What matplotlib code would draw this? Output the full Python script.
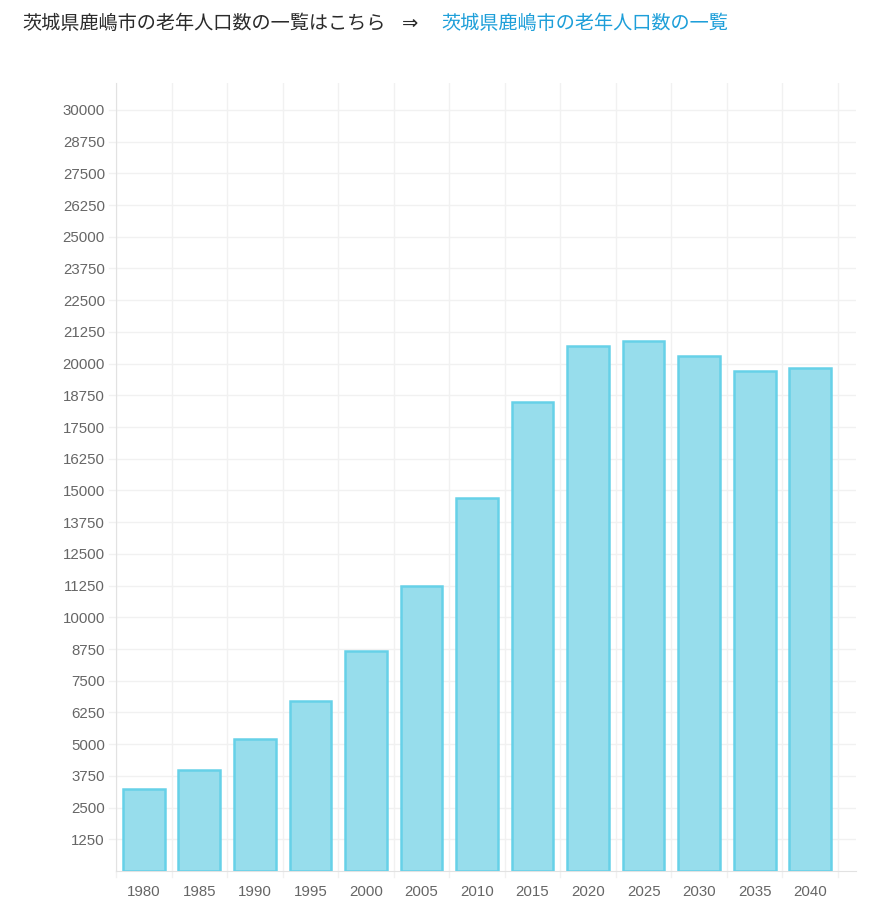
import matplotlib
matplotlib.use("Agg")
import matplotlib.pyplot as plt

years = ["1980", "1985", "1990", "1995", "2000", "2005", "2010",
         "2015", "2020", "2025", "2030", "2035", "2040"]
elderly = [3232, 3981, 5203, 6701, 8672, 11235, 14704,
           18500, 20707, 20893, 20301, 19722, 19816]
yticks = list(range(1250, 30001, 1250))

title_black = "茨城県鹿嶋市の老年人口数の一覧はこちら"
title_link = "茨城県鹿嶋市の老年人口数の一覧"

plt.rcParams['font.family'] = ['Liberation Sans', 'DejaVu Sans']
jp_font = ['Noto Sans CJK JP', 'DejaVu Sans']

fig = plt.figure(figsize=(8.86, 9.07), dpi=100)
fig.patch.set_facecolor('white')

# header line with link
fig.text(22 / 886, 1 - 23 / 907, title_black, family=jp_font, fontsize=13.8,
         color='#2b2b2b', va='center', ha='left')
fig.text(402 / 886, 1 - 23 / 907, "⇒", family=['DejaVu Sans'], fontsize=14,
         color='#2b2b2b', va='center', ha='left')
fig.text(441 / 886, 1 - 23 / 907, title_link, family=jp_font, fontsize=13.8,
         color='#1e9fd9', va='center', ha='left')

ax = fig.add_axes([116 / 886, 1 - 871 / 907, (856 - 116) / 886, (871 - 83) / 907])

x = list(range(len(years)))
ax.bar(x, elderly, width=0.75, color='#97ddec', edgecolor='#66d1e8',
       linewidth=1.8, zorder=3)

ax.set_xlim(-0.5, 12.5 + 18 / 55.5)
ax.set_ylim(0, 31060)

# grid
for k in range(len(years) + 1):
    ax.axvline(k - 0.5, color='#f1f1f1', linewidth=1, zorder=1)
for t in yticks:
    ax.axhline(t, color='#f1f1f1', linewidth=1, zorder=1)

ax.set_yticks(yticks)
ax.set_yticklabels([str(t) for t in yticks])
ax.set_xticks(x)
ax.set_xticklabels(years)
ax.tick_params(axis='both', length=0, labelsize=10.8, labelcolor='#666666')
ax.tick_params(axis='y', pad=8)
ax.tick_params(axis='x', pad=10)

# small tick marks outside axes like chart.js
for t in yticks:
    ax.plot([-0.5 - 7 / 55.5, -0.5], [t, t], color='#f1f1f1', lw=1,
            clip_on=False, zorder=1)
for k in range(len(years) + 1):
    ax.plot([k - 0.5, k - 0.5], [0, -6 * 31060 / 788], color='#f1f1f1', lw=1,
            clip_on=False, zorder=1)

for side in ['top', 'right']:
    ax.spines[side].set_visible(False)
ax.spines['left'].set_color('#e2e2e2')
ax.spines['bottom'].set_color('#e2e2e2')

fig.savefig('out.png', dpi=100, facecolor='white')
